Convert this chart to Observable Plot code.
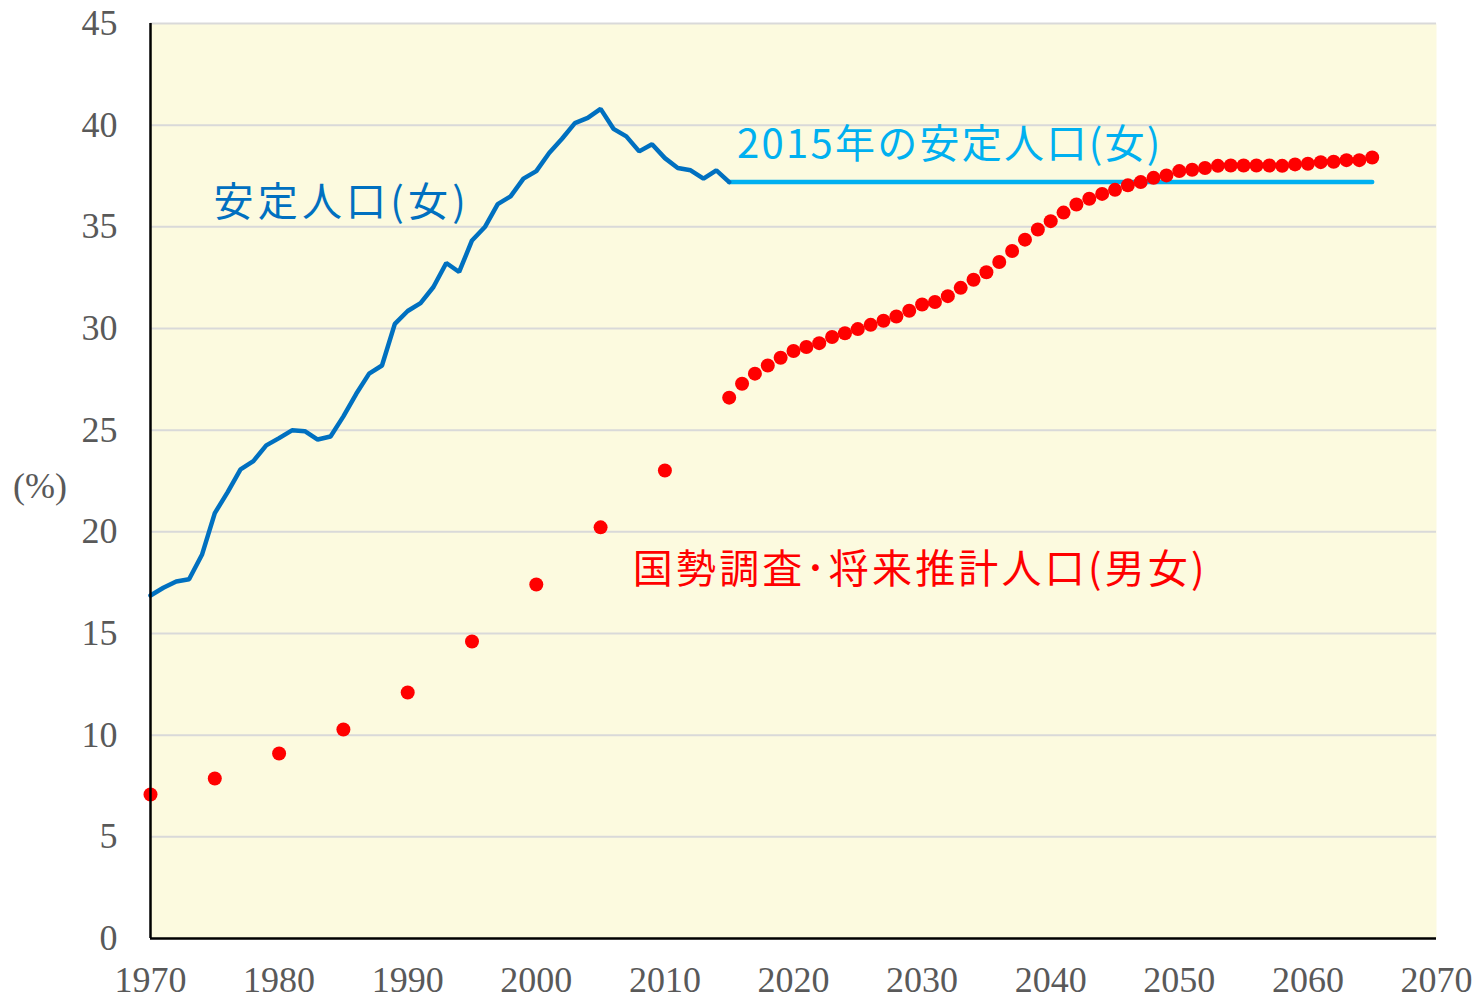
<!DOCTYPE html>
<html>
<head>
<meta charset="utf-8">
<script src="https://cdn.jsdelivr.net/npm/d3@7"></script>
<script src="https://cdn.jsdelivr.net/npm/@observablehq/plot@0.6"></script>
<style>
  html, body { margin: 0; padding: 0; background: #ffffff; }
  #chart svg { display: block; }
  #chart svg g[aria-label="x-axis tick label"] text,
  #chart svg g[aria-label="y-axis tick label"] text { font-family: 'Liberation Serif', 'DejaVu Serif', serif; }
</style>
</head>
<body>
<div id="chart"></div>
<script>
// 安定人口(女) — annual, 1970–2015
const stableYears = [1970,1971,1972,1973,1974,1975,1976,1977,1978,1979,1980,1981,1982,1983,1984,1985,1986,1987,1988,1989,1990,1991,1992,1993,1994,1995,1996,1997,1998,1999,2000,2001,2002,2003,2004,2005,2006,2007,2008,2009,2010,2011,2012,2013,2014,2015];
const stableValues = [16.87,17.25,17.56,17.67,18.87,20.92,21.95,23.07,23.48,24.25,24.61,24.99,24.95,24.54,24.69,25.68,26.79,27.78,28.18,30.23,30.86,31.25,32.04,33.22,32.78,34.33,34.99,36.12,36.5,37.37,37.74,38.63,39.33,40.1,40.36,40.8,39.82,39.45,38.71,39.06,38.38,37.89,37.78,37.37,37.78,37.2];

// 2015年の安定人口(女) — constant level
const stable2015Years = [2015, 2065];
const stable2015Values = [37.2, 37.2];

// 国勢調査・将来推計人口(男女)
const censusYears = [1970,1975,1980,1985,1990,1995,2000,2005,2010,2015,
  2016,2017,2018,2019,2020,2021,2022,2023,2024,2025,2026,2027,2028,2029,2030,
  2031,2032,2033,2034,2035,2036,2037,2038,2039,2040,2041,2042,2043,2044,2045,
  2046,2047,2048,2049,2050,2051,2052,2053,2054,2055,2056,2057,2058,2059,2060,
  2061,2062,2063,2064,2065];
const censusValues = [7.08,7.87,9.1,10.28,12.1,14.61,17.41,20.22,23.02,26.6,
  27.28,27.78,28.18,28.56,28.89,29.09,29.28,29.58,29.77,29.97,30.18,30.38,30.59,30.87,31.18,
  31.3,31.59,32.0,32.4,32.77,33.27,33.81,34.37,34.87,35.28,35.7,36.1,36.38,36.62,36.82,
  37.04,37.2,37.41,37.53,37.74,37.81,37.89,38.0,38.02,38.02,38.02,38.02,38.0,38.07,38.1,
  38.18,38.2,38.28,38.28,38.41];

const xTicks = [1970,1980,1990,2000,2010,2020,2030,2040,2050,2060,2070];
const yTicks = [0,5,10,15,20,25,30,35,40,45];
const gridValues = [5,10,15,20,25,30,35,40,45];

const labelBlue = "安定人口(女)";
const labelCyan = "2015年の安定人口(女)";
const labelRed = "国勢調査･将来推計人口(男女)";

const stable = stableYears.map((y, i) => ({year: y, value: stableValues[i]}));
const stable2015 = stable2015Years.map((y, i) => ({year: y, value: stable2015Values[i]}));
const census = censusYears.map((y, i) => ({year: y, value: censusValues[i]}));

const cjk = "Noto Sans CJK JP";
const serif = "Liberation Serif";

const chart = Plot.plot({
  width: 1482,
  height: 998,
  marginLeft: 150,
  marginRight: 46,
  marginTop: 23,
  marginBottom: 60,
  style: {background: "#ffffff", overflow: "visible"},
  x: {domain: [1970, 2070]},
  y: {domain: [0, 45]},
  marks: [
    Plot.frame({fill: "#FCFADF", stroke: "none"}),
    Plot.ruleY(gridValues, {stroke: "#d9d9d9", strokeWidth: 2}),
    Plot.axisY({ticks: yTicks, tickSize: 0, tickPadding: 33, label: null,
      fontSize: 36, fontFamily: serif, fill: "#595959"}),
    Plot.axisX({ticks: xTicks, tickSize: 0, tickPadding: 28, label: null,
      tickFormat: d => String(d), fontSize: 36, fontFamily: serif, fill: "#595959"}),
    Plot.lineY(stable2015, {x: "year", y: "value", stroke: "#00B0F0", strokeWidth: 4.5, strokeLinecap: "round"}),
    Plot.lineY(stable, {x: "year", y: "value", stroke: "#0070C0", strokeWidth: 4.5, strokeLinejoin: "miter"}),
    Plot.dot(census, {x: "year", y: "value", r: 7, fill: "#FF0000", stroke: "none"}),
    Plot.ruleX([1970], {stroke: "#000000", strokeWidth: 2.5}),
    Plot.ruleY([0], {stroke: "#000000", strokeWidth: 2.5}),
    Plot.text([labelBlue], {x: 1974.9, y: 36.15, text: d => d, textAnchor: "start",
      fill: "#0070C0", fontSize: 40, fontFamily: cjk}),
    Plot.text([labelCyan], {x: 2015.6, y: 39.0, text: d => d, textAnchor: "start",
      fill: "#00B0F0", fontSize: 40, fontFamily: cjk}),
    Plot.text([labelRed], {x: 2007.5, y: 18.1, text: d => d, textAnchor: "start",
      fill: "#FF0000", fontSize: 40, fontFamily: cjk})
  ]
});

const svg = d3.select(chart);
// letter spacing of the annotation labels
const spacing = new Map([[labelBlue, 4.2], [labelCyan, 2.3], [labelRed, 3.2]]);
svg.selectAll("text").each(function() {
  const s = spacing.get(this.textContent);
  if (s != null) this.setAttribute("letter-spacing", s);
});

// y-axis unit label "(%)"
svg.append("text")
  .attr("x", 40).attr("y", 485)
  .attr("text-anchor", "middle").attr("dy", "0.35em")
  .attr("font-family", serif).attr("font-size", 36).attr("fill", "#595959")
  .text("(%)");

document.getElementById("chart").appendChild(chart);
</script>
</body>
</html>
